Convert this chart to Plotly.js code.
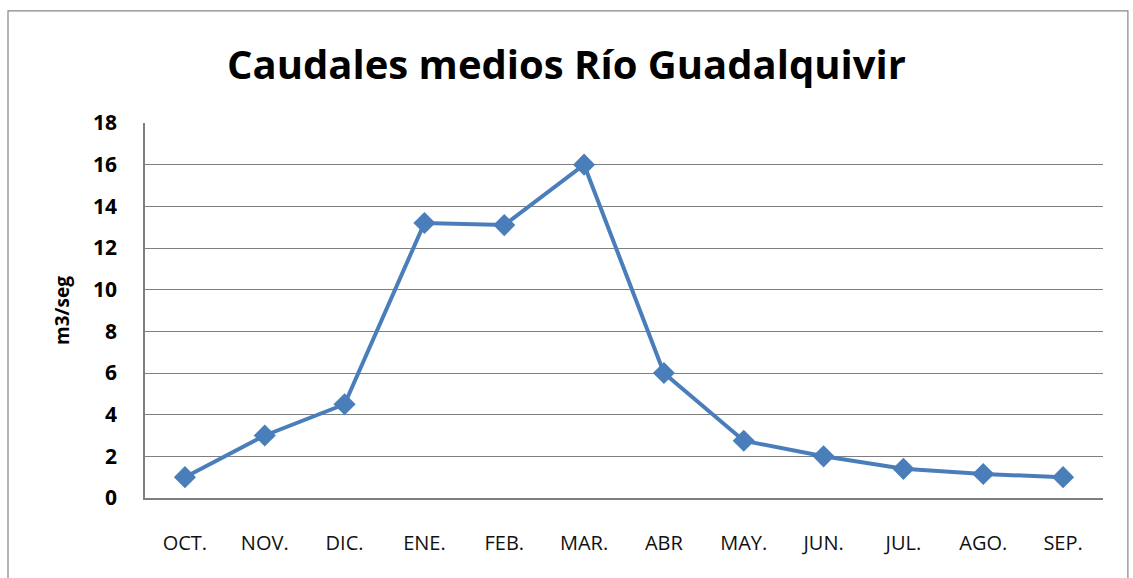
<!DOCTYPE html>
<html>
<head>
<meta charset="utf-8">
<script src="https://cdn.plot.ly/plotly-3.0.1.min.js"></script>
<style>html,body{margin:0;padding:0;background:#fff;} #chart{width:1133px;height:578px;}</style>
</head>
<body>
<div id="chart"></div>
<script>
const months = ["OCT.", "NOV.", "DIC.", "ENE.", "FEB.", "MAR.", "ABR", "MAY.", "JUN.", "JUL.", "AGO.", "SEP."];
const caudal = [1, 3, 4.5, 13.2, 13.1, 16, 6, 2.75, 2, 1.4, 1.15, 1];
const yTicks = [0, 2, 4, 6, 8, 10, 12, 14, 16, 18];
const chartTitle = "Caudales medios Río Guadalquivir";
const yTitle = "m3/seg";

const trace = {
  x: months,
  y: caudal,
  type: "scatter",
  mode: "lines+markers",
  line: {color: "#4A7EBB", width: 4},
  marker: {symbol: "diamond", size: 17, color: "#4A7EBB"},
  hoverinfo: "x+y"
};

const layout = {
  width: 1133, height: 578,
  margin: {l: 145, r: 30, t: 123, b: 80},
  paper_bgcolor: "#fff", plot_bgcolor: "#fff",
  showlegend: false,
  title: {text: "<b>" + chartTitle + "</b>", font: {family: "Open Sans, sans-serif", size: 40, color: "#000"}, x: 0.5, xanchor: "center", y: 0.888, yanchor: "middle"},
  xaxis: {
    type: "category", range: [-0.5, 11.5],
    showgrid: false, showline: true, linecolor: "#7f7f7f", linewidth: 1.5,
    ticks: "outside", ticklen: 26, tickcolor: "rgba(0,0,0,0)",
    tickfont: {family: "Open Sans, sans-serif", size: 20, color: "#111"},
    zeroline: false, fixedrange: true
  },
  yaxis: {
    range: [0, 18], tickvals: yTicks, ticktext: yTicks.map(String),
    showgrid: true, gridcolor: "#7f7f7f", gridwidth: 1.3,
    showline: true, linecolor: "#7f7f7f", linewidth: 1.5,
    ticks: "outside", ticklen: 22, tickcolor: "rgba(0,0,0,0)",
    tickfont: {family: "Open Sans, sans-serif", size: 21, color: "#000", weight: "bold"},
    zeroline: false, fixedrange: true,
    title: {text: "<b>" + yTitle + "</b>", font: {family: "Open Sans, sans-serif", size: 19, color: "#000"}, standoff: 18}
  },
  shapes: [{
    type: "rect", xref: "paper", yref: "paper",
    x0: -0.143, x1: 1.026, y0: -0.3, y1: 1.299,
    line: {color: "#868686", width: 1.2}, fillcolor: "rgba(0,0,0,0)", layer: "below"
  }]
};

Plotly.newPlot("chart", [trace], layout, {displayModeBar: false, staticPlot: false});
</script>
</body>
</html>
